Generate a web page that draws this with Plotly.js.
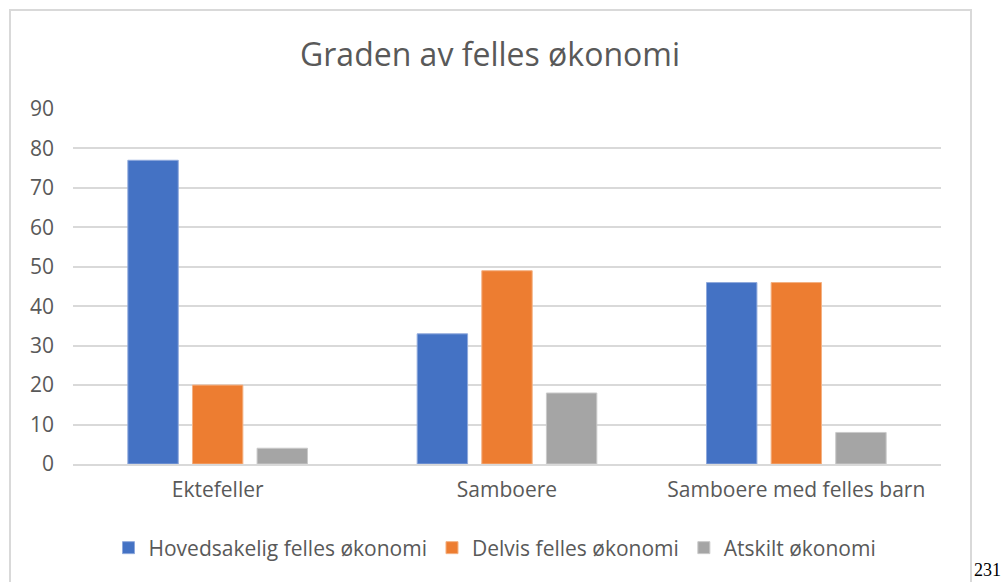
<!DOCTYPE html>
<html>
<head>
<meta charset="utf-8">
<script src="https://cdn.plot.ly/plotly-3.0.1.min.js"></script>
<style>
  html, body { margin: 0; padding: 0; background: #ffffff; }
  #wrap { position: relative; width: 1007px; height: 582px; overflow: hidden; }
  #frame { position: absolute; left: 9px; top: 9px; width: 963px; height: 600px; border: 2px solid #d9d9d9; box-sizing: border-box; }
  #chart { position: absolute; left: 0; top: 0; width: 1007px; height: 582px; }
</style>
</head>
<body>
<div id="wrap">
  <div id="frame"></div>
  <div id="chart"></div>
</div>
<script>
const categories = ["Ektefeller", "Samboere", "Samboere med felles barn"];
const seriesNames = ["Hovedsakelig felles økonomi", "Delvis felles økonomi", "Atskilt økonomi"];
const hovedsakelig = [77, 33, 46];
const delvis = [20, 49, 46];
const atskilt = [4, 18, 8];
const yTicks = [0, 10, 20, 30, 40, 50, 60, 70, 80, 90];
const colors = ["#4472C4", "#ED7D31", "#A5A5A5"];
const edgeColors = ["#8fa9dc", "#f4b183", "#c9c9c9"];

const seriesValues = [hovedsakelig, delvis, atskilt];
const font = "Open Sans, sans-serif";
const traces = seriesValues.map((vals, i) => ({
  type: "bar",
  name: seriesNames[i],
  x: categories,
  y: vals,
  marker: { color: colors[i], line: { color: edgeColors[i], width: 1 } },
  hoverinfo: "x+y+name"
}));

const layout = {
  width: 1007,
  height: 582,
  paper_bgcolor: "rgba(0,0,0,0)",
  plot_bgcolor: "rgba(0,0,0,0)",
  margin: { l: 73, r: 66, t: 109, b: 118 },
  barmode: "group",
  bargap: 0.33,
  bargroupgap: 0.22,
  title: {
    text: "Graden av felles økonomi",
    font: { family: font, size: 32, color: "#595959" },
    x: 490 / 1007, xref: "container", xanchor: "center",
    y: 1 - 55 / 582, yref: "container", yanchor: "middle"
  },
  xaxis: {
    type: "category",
    tickfont: { family: font, size: 21, color: "#595959" },
    showline: true, linecolor: "#d9d9d9", linewidth: 2,
    ticks: "", showgrid: false, ticklabelstandoff: 6
  },
  yaxis: {
    range: [0, 90],
    tickvals: yTicks,
    ticktext: yTicks.map(String),
    tickfont: { family: font, size: 21, color: "#595959" },
    showgrid: true, gridcolor: "#d9d9d9", gridwidth: 2,
    zeroline: false, showline: false, ticks: "", ticklabelstandoff: 18
  },
  legend: {
    orientation: "h",
    x: 495 / 1007, xref: "container", xanchor: "center",
    y: 1 - 548 / 582, yref: "container", yanchor: "middle",
    font: { family: font, size: 21, color: "#595959" },
    itemwidth: 30,
    traceorder: "normal"
  },
  annotations: [{
    text: "231",
    xref: "paper", yref: "paper",
    x: (987 - 73) / (941 - 73), y: -(570 - 464) / (464 - 109),
    xanchor: "center", yanchor: "middle",
    showarrow: false,
    font: { family: "Liberation Serif, Times New Roman, serif", size: 18, color: "#000000" }
  }]
};

Plotly.newPlot("chart", traces, layout, { displayModeBar: false, staticPlot: true });
</script>
</body>
</html>
